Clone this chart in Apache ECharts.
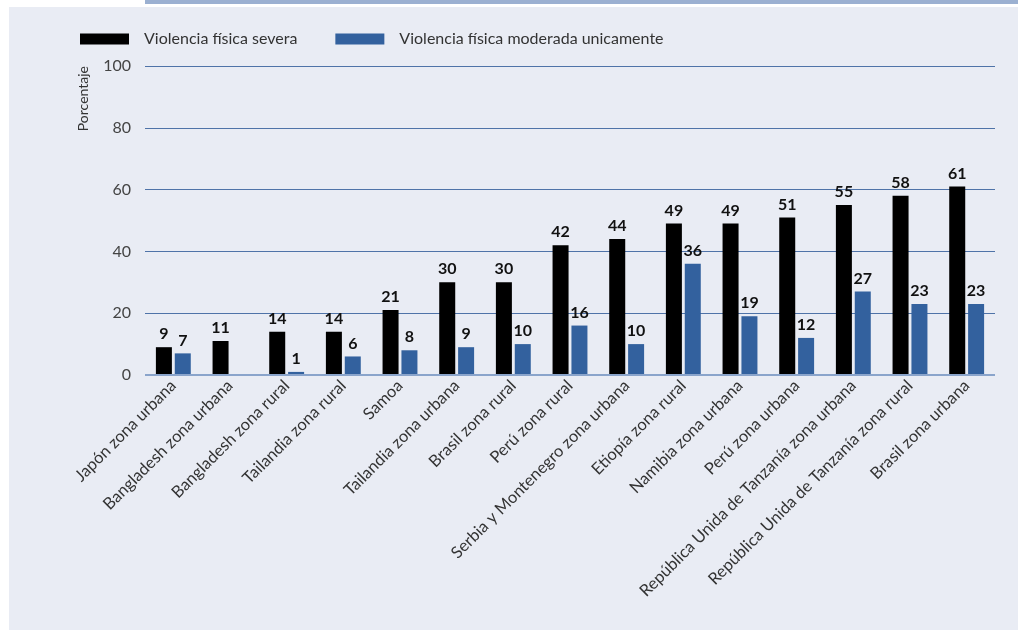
<!DOCTYPE html>
<html><head><meta charset="utf-8">
<script src="https://cdn.jsdelivr.net/npm/echarts@6/dist/echarts.min.js"></script>
<style>html,body{margin:0;padding:0;background:#fff}#c{width:1018px;height:630px}</style>
</head><body><div id="c"></div>
<script>
const categories = ["Japón zona urbana","Bangladesh zona urbana","Bangladesh zona rural","Tailandia zona rural","Samoa","Tailandia zona urbana","Brasil zona rural","Perú zona rural","Serbia y Montenegro zona urbana","Etiopía zona rural","Namibia zona urbana","Perú zona urbana","República Unida de Tanzanía zona urbana","República Unida de Tanzanía zona rural","Brasil zona urbana"];
const severa = [9,11,14,14,21,30,30,42,44,49,49,51,55,58,61];
const moderada = [7,null,1,6,8,9,10,16,10,36,19,12,27,23,23];
const seriesNames = ["Violencia física severa","Violencia física moderada unicamente"];
const yTicks = [0,20,40,60,80,100];

const chart = echarts.init(document.getElementById('c'), null, {renderer:'canvas'});
const fontFam = 'Lato, "Open Sans", sans-serif';
const lbl = {show:true, position:'top', distance:5, color:'#111', fontWeight:'bold', fontSize:16, fontFamily:fontFam};
chart.setOption({
  animation:false,
  backgroundColor:'#ffffff',
  graphic:[
    {type:'rect', z:-10, shape:{x:9,y:7,width:1009,height:623}, style:{fill:'#e9ecf4'}},
    {type:'rect', z:-10, shape:{x:145,y:0,width:873,height:4}, style:{fill:'#9bb0d1'}},
    {type:'text', left:76, top:66, rotation:Math.PI/2, style:{text:'Porcentaje', fill:'#333', fontSize:14, fontFamily:fontFam}}
  ],
  legend:{
    left:75, top:26, itemWidth:49, itemHeight:11, itemGap:38,
    textStyle:{fontSize:16, color:'#333', fontFamily:fontFam, padding:[0,0,0,10]},
    icon:'rect',
    data:seriesNames
  },
  grid:{left:145, right:23, top:66, bottom:255, containLabel:false},
  xAxis:{
    type:'category', data:categories,
    axisLine:{show:false}, axisTick:{show:false},
    axisLabel:{rotate:45, interval:0, margin:8, fontSize:16.5, color:'#333', fontFamily:fontFam}
  },
  yAxis:{
    type:'value', min:0, max:100, interval:20,
    axisLine:{show:false}, axisTick:{show:false},
    axisLabel:{fontSize:16, color:'#444', margin:14, fontFamily:fontFam},
    splitLine:{lineStyle:{color:'#4f73a8', width:1}}
  },
  series:[
    {name:seriesNames[0], type:'bar', data:severa, barWidth:16, barGap:'18%', itemStyle:{color:'#000'}, label:lbl},
    {name:seriesNames[1], type:'bar', data:moderada, barWidth:16, itemStyle:{color:'#33619e'}, label:lbl,
     markLine:{silent:true, symbol:'none', label:{show:false}, lineStyle:{color:'#8aa4cb', width:2, type:'solid'}, data:[{yAxis:0}]}}
  ]
});
</script></body></html>
